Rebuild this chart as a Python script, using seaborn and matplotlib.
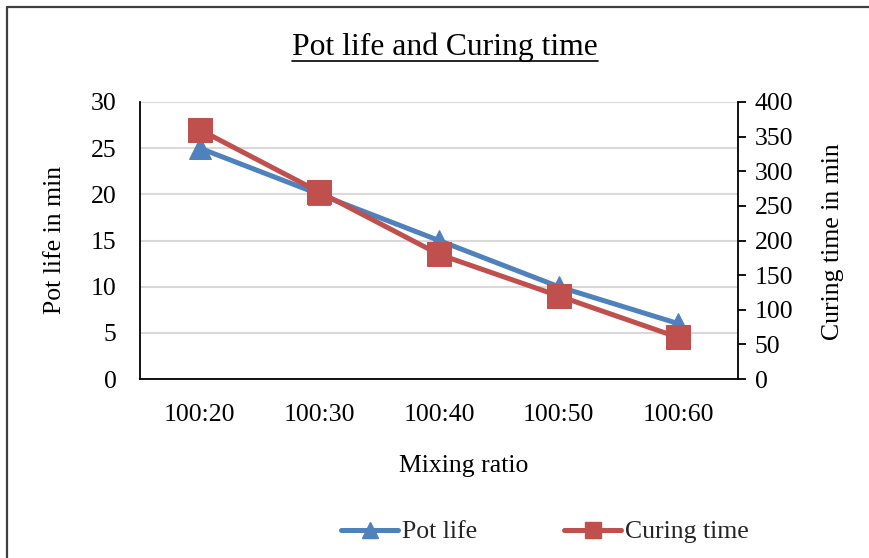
import matplotlib
matplotlib.use("Agg")
import matplotlib.pyplot as plt
import seaborn as sns
import pandas as pd
from matplotlib.lines import Line2D

ratios = ["100:20", "100:30", "100:40", "100:50", "100:60"]
pot_life = [25, 20, 15, 10, 6]
curing_time = [360, 270, 180, 120, 60]

sns.set_theme(style="white")
plt.rcParams['font.family'] = ['Liberation Serif', 'DejaVu Serif']

BLUE = "#4F81BD"
RED = "#C0504D"
FS = 18.5

df = pd.DataFrame({"ratio": ratios, "pot": pot_life, "cure": curing_time})

fig = plt.figure(figsize=(8.7, 5.58), dpi=100)
ax = fig.add_axes([140/870, 1-379/558, (738-140)/870, (379-102)/558])
ax2 = ax.twinx()

sns.lineplot(data=df, x="ratio", y="pot", ax=ax, color=BLUE, lw=3.6,
             marker="^", markersize=16, markeredgecolor=BLUE, label="Pot life",
             legend=False, zorder=3)
sns.lineplot(data=df, x="ratio", y="cure", ax=ax2, color=RED, lw=3.6,
             marker="s", markersize=17, markeredgecolor=RED, label="Curing time",
             legend=False, zorder=3)

ax.set_xlim(-0.5, 4.5)
ax.set_ylim(0, 30)
ax.set_yticks(range(0, 31, 5))
ax2.set_ylim(0, 400)
ax2.set_yticks(range(0, 401, 50))

ax.yaxis.grid(True, color="#D9D9D9", lw=1.5)
ax.set_axisbelow(True)

for s in ["top", "right"]:
    ax.spines[s].set_visible(False)
for s in ["top", "left", "bottom"]:
    ax2.spines[s].set_visible(False)
ax.spines["left"].set_color("black")
ax.spines["bottom"].set_color("black")
ax.spines["left"].set_linewidth(1.3)
ax.spines["bottom"].set_linewidth(1.3)
ax2.spines["right"].set_color("black")
ax2.spines["right"].set_linewidth(1.3)

ax.tick_params(axis="y", length=0, pad=17, labelsize=FS, labelcolor="black")
ax.tick_params(axis="x", length=0, pad=18, labelsize=FS, labelcolor="black")
ax2.tick_params(axis="y", length=6, width=1.3, direction="out", color="black",
                pad=6, labelsize=FS, labelcolor="black")

ax.set_xlabel("")
ax.set_ylabel("")
ax2.set_ylabel("")

fig.text(55/870, 1-240/558, "Pot life in min", rotation=90, ha="center", va="center",
         fontsize=FS, color="black")
fig.text(833/870, 1-242/558, "Curing time in min", rotation=90, ha="center", va="center",
         fontsize=FS, color="black")
fig.text(464/870, 1-466/558, "Mixing ratio", ha="center", va="center",
         fontsize=FS, color="black")

title = fig.text(445/870, 1-47/558, "Pot life and Curing time", ha="center", va="center",
                 fontsize=22.8, color="black")
fig.canvas.draw()
bb = title.get_window_extent(fig.canvas.get_renderer())
inv = fig.transFigure.inverted()
(x0, y0), (x1, y1) = inv.transform([(bb.x0, bb.y0), (bb.x1, bb.y1)])
fig.add_artist(Line2D([x0, x1], [y0 + 1/558, y0 + 1/558], transform=fig.transFigure,
                      color="black", lw=1.2))

# figure border (left and top)
fig.add_artist(Line2D([7/870, 7/870], [0, 1-7/558], transform=fig.transFigure,
                      color="#404040", lw=1.6))
fig.add_artist(Line2D([7/870, 1], [1-7/558, 1-7/558], transform=fig.transFigure,
                      color="#404040", lw=1.6))

handles = [Line2D([], [], color=BLUE, lw=3.6, marker="^", markersize=11, markeredgecolor=BLUE),
           Line2D([], [], color=RED, lw=3.6, marker="s", markersize=11, markeredgecolor=RED)]
fig.legend(handles, ["Pot life", "Curing time"], loc="center",
           bbox_to_anchor=(545/870, 1-532/558), ncol=2, frameon=False,
           fontsize=FS, handlelength=2.2, handletextpad=0.15, columnspacing=3.4)

fig.savefig("out.png", dpi=100, facecolor="white")
